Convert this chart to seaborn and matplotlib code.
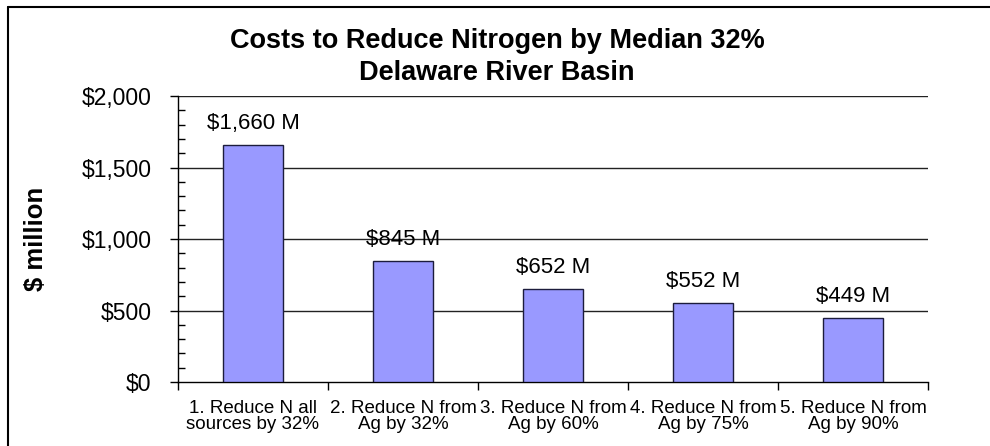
import matplotlib
matplotlib.use("Agg")
import matplotlib.pyplot as plt
from matplotlib.lines import Line2D
from matplotlib.ticker import MultipleLocator, FixedLocator, FuncFormatter
import seaborn as sns
import pandas as pd

scenarios = [
    "1. Reduce N all\nsources by 32%",
    "2. Reduce N from\nAg by 32%",
    "3. Reduce N from\nAg by 60%",
    "4. Reduce N from\nAg by 75%",
    "5. Reduce N from\nAg by 90%",
]
costs = [1660, 845, 652, 552, 449]

df = pd.DataFrame({"scenario": scenarios, "cost": costs})

sns.set_theme(style="white")
plt.rcParams["font.family"] = ["Liberation Sans", "DejaVu Sans"]
plt.rcParams["text.color"] = "black"

fig = plt.figure(figsize=(9.9, 4.46), dpi=100)
ax = fig.add_axes([178 / 990, 1 - 382 / 446, 750 / 990, 286 / 446])

sns.barplot(data=df, x="scenario", y="cost", ax=ax, width=0.4,
            color="#9999FF", saturation=1, edgecolor="#1c1c3c", linewidth=1.0,
            zorder=3)

ax.set_xlim(-0.5, len(scenarios) - 0.5)
ax.set_ylim(0, 2000)

# gridlines at major y ticks
for v in [500, 1000, 1500, 2000]:
    ax.axhline(v, color="#222222", lw=1.0, zorder=1)

for side in ["top", "right"]:
    ax.spines[side].set_visible(False)
for side in ["left", "bottom"]:
    ax.spines[side].set_color("black")
    ax.spines[side].set_linewidth(1.0)

ax.yaxis.set_major_locator(MultipleLocator(500))
ax.yaxis.set_minor_locator(MultipleLocator(100))
ax.yaxis.set_major_formatter(FuncFormatter(lambda v, p: f"${v:,.0f}"))
ax.tick_params(axis="y", which="major", direction="out", length=6, width=1,
               color="black", labelcolor="black", labelsize=16.5, pad=13, left=True)
ax.tick_params(axis="y", which="minor", direction="in", length=5, width=1,
               color="black", left=True)

# category separators on x axis
ax.xaxis.set_minor_locator(FixedLocator([i - 0.5 for i in range(len(scenarios) + 1)]))
ax.tick_params(axis="x", which="major", length=0, labelsize=13.5, pad=13,
               labelcolor="black")
ax.tick_params(axis="x", which="minor", direction="out", length=6, width=1,
               color="black", bottom=True)
for lbl in ax.get_xticklabels():
    lbl.set_linespacing(0.95)

ax.set_xlabel("")
ax.set_ylabel("$ million", fontsize=18.5, fontweight="bold", labelpad=24,
              color="black")

for i, v in enumerate(costs):
    ax.annotate(f"${v:,} M", (i, v), xytext=(0, 8), textcoords="offset points",
                ha="center", va="bottom", fontsize=16, color="black")

fig.text(0.502, 1 - 48 / 446, "Costs to Reduce Nitrogen by Median 32%",
         ha="center", va="baseline", fontsize=19.5, fontweight="bold")
fig.text(0.502, 1 - 80 / 446, "Delaware River Basin",
         ha="center", va="baseline", fontsize=19.5, fontweight="bold")

# outer chart border (left and top edges)
fig.add_artist(Line2D([8 / 990, 8 / 990], [0, 1 - 7 / 446], color="black", lw=1.5))
fig.add_artist(Line2D([8 / 990, 1], [1 - 7 / 446, 1 - 7 / 446], color="black", lw=1.5))

fig.savefig("out.png", dpi=100)
